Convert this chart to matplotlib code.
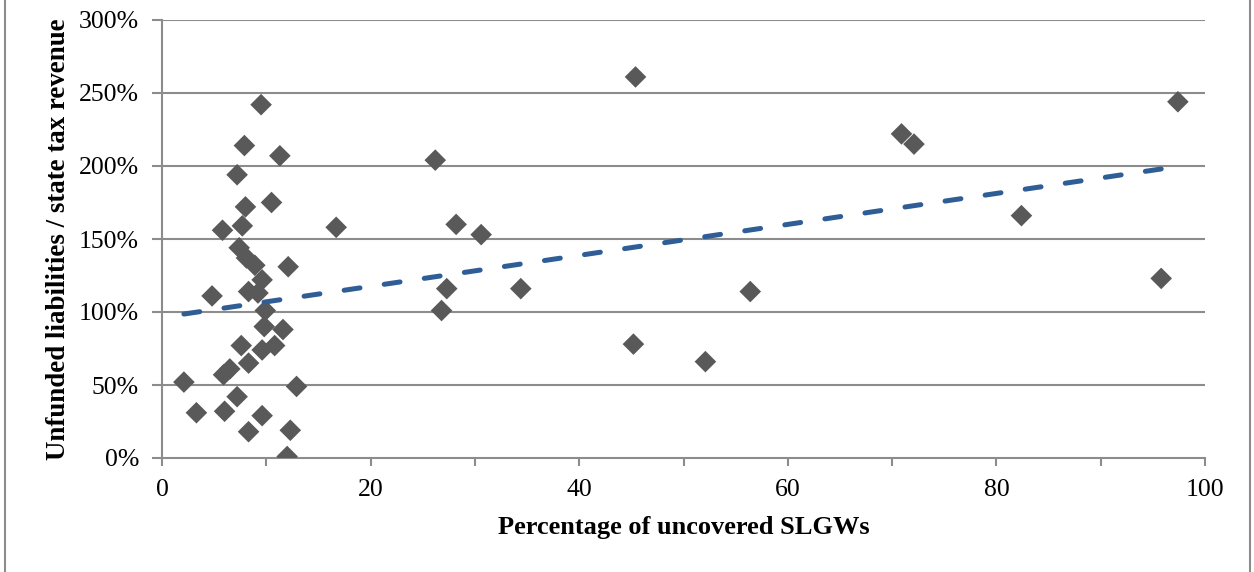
import numpy as np
import matplotlib
matplotlib.use("Agg")
import matplotlib.pyplot as plt
from matplotlib.ticker import MultipleLocator, FuncFormatter
from matplotlib.lines import Line2D

uncovered_pct = [2.1, 3.3, 4.8, 5.8, 5.9, 6.0, 6.5, 7.2, 7.2, 7.4,
                 7.6, 7.7, 7.9, 8.0, 8.1, 8.3, 8.3, 8.3, 8.9, 9.2,
                 9.5, 9.6, 9.6, 9.6, 9.8, 9.9, 10.5, 10.8, 11.3, 11.6,
                 12.0, 12.1, 12.3, 12.9, 16.7, 26.2, 26.8, 27.3, 28.2, 30.6,
                 34.4, 45.4, 45.2, 52.1, 56.4, 70.9, 72.1, 82.4, 95.8, 97.4]
liab_ratio = [52, 31, 111, 156, 57, 32, 61, 42, 194, 144,
              77, 159, 214, 172, 137, 114, 18, 65, 132, 113,
              242, 122, 74, 29, 90, 101, 175, 77, 207, 88,
              1, 131, 19, 49, 158, 204, 101, 116, 160, 153,
              116, 261, 78, 66, 114, 222, 215, 166, 123, 244]

x_label = "Percentage of uncovered SLGWs"
y_label = "Unfunded liabilities / state tax revenue"

plt.rcParams['font.family'] = ['Liberation Serif', 'DejaVu Serif']

fig = plt.figure(figsize=(12.54, 5.72), dpi=100)
ax = fig.add_axes([162/1254, 114/572, (1205-162)/1254, (458-20)/572])

x = np.array(uncovered_pct)
y = np.array(liab_ratio)

grid_c = '#8C8C8C'
for v in range(50, 301, 50):
    ax.axhline(v, color=grid_c, lw=1.5, zorder=1)

ax.scatter(x, y, marker='D', s=11**2, color='#595959', edgecolors='none', zorder=3)

coef = np.polyfit(x, y, 1)
xt = np.array([x.min(), x.max()])
ax.plot(xt, np.polyval(coef, xt), color='#2F5E96', lw=3.6, dashes=(3.2, 4.9),
        dash_capstyle='round', zorder=4)

ax.set_xlim(0, 100)
ax.set_ylim(0, 300)
ax.xaxis.set_major_locator(MultipleLocator(20))
ax.xaxis.set_minor_locator(MultipleLocator(10))
ax.yaxis.set_major_locator(MultipleLocator(50))
ax.yaxis.set_major_formatter(FuncFormatter(lambda v, p: f"{int(v)}%"))

for s in ['top', 'right']:
    ax.spines[s].set_visible(False)
for s in ['left', 'bottom']:
    ax.spines[s].set_color(grid_c)
    ax.spines[s].set_linewidth(1.5)

ax.tick_params(axis='x', which='both', direction='out', length=6, width=1.5,
               color=grid_c, labelsize=18.5, pad=9)
ax.tick_params(axis='y', which='major', direction='out', length=7, width=1.5,
               color=grid_c, labelsize=18.5, pad=9.5)

ax.set_xlabel(x_label, fontsize=19, fontweight='bold', labelpad=11)
ax.set_ylabel(y_label, fontsize=19.4, fontweight='bold', labelpad=6)

for xp in (5/1254, 1250/1254):
    fig.add_artist(Line2D([xp, xp], [0, 1], transform=fig.transFigure,
                          color='#8C8C8C', lw=1.5))

fig.savefig('out.png', dpi=100)
